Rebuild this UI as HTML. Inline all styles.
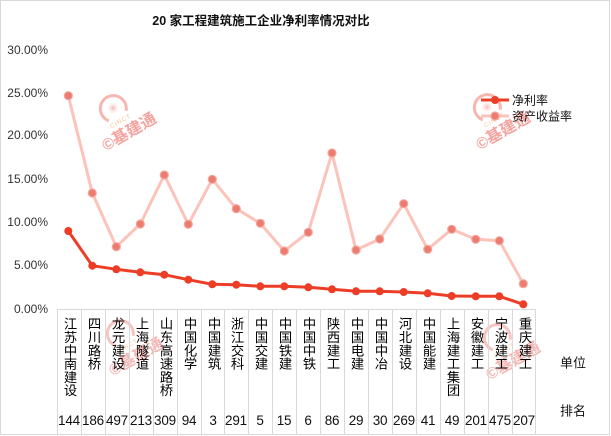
<!DOCTYPE html>
<html><head><meta charset="utf-8"><style>
html,body{margin:0;padding:0;background:#fff;}
#c{position:relative;width:611px;height:436px;overflow:hidden;font-family:"Liberation Sans","Noto Sans CJK SC",sans-serif;}
svg{position:absolute;left:0;top:0;}
.v{position:absolute;top:317px;width:24px;writing-mode:vertical-rl;text-orientation:upright;font-size:13.3px;line-height:24px;color:#000;font-family:"Liberation Sans","Noto Sans CJK SC",sans-serif;}
.n{position:absolute;top:411px;width:24px;text-align:center;font-size:13.5px;line-height:19px;color:#111;white-space:nowrap;letter-spacing:-0.2px;}
.y{position:absolute;left:0;width:48px;text-align:right;font-size:12px;line-height:14px;color:#333;}
</style></head><body><div id="c">
<svg width="611" height="436" viewBox="0 0 611 436" xmlns="http://www.w3.org/2000/svg">
<defs>
<radialGradient id="rg"><stop offset="0" stop-color="#f49a94" stop-opacity="0.9"/><stop offset="1" stop-color="#fff" stop-opacity="0"/></radialGradient>
</defs>
<rect x="0.5" y="0.5" width="609" height="434" fill="#fff" stroke="#d9d9d9"/>
<!-- watermarks -->
<g opacity="0.8" font-family="Liberation Sans,Noto Sans CJK SC,sans-serif">
<g transform="translate(113,108) rotate(-30)">
<path d="M -10 9 A 13 13 0 1 1 10 9" fill="none" stroke="#f6a49c" stroke-width="3"/>
<circle r="7" fill="url(#rg)"/>
<text x="0" y="17" font-size="6" fill="#f2b36d" text-anchor="middle" letter-spacing="1">CINCT</text>
<text x="2" y="34" font-size="16" font-weight="bold" fill="#f28c86" text-anchor="middle">©基建通</text>
</g>
<g transform="translate(487,107) rotate(-30)">
<path d="M -10 9 A 13 13 0 1 1 10 9" fill="none" stroke="#f6a49c" stroke-width="3"/>
<circle r="7" fill="url(#rg)"/>
<text x="0" y="17" font-size="6" fill="#f2b36d" text-anchor="middle" letter-spacing="1">CINCT</text>
<text x="2" y="34" font-size="16" font-weight="bold" fill="#f28c86" text-anchor="middle">©基建通</text>
</g>
<g transform="translate(120,333) rotate(-30)" opacity="0.8">
<path d="M -10 9 A 13 13 0 1 1 10 9" fill="none" stroke="#f6a49c" stroke-width="3"/>
<text x="0" y="17" font-size="6" fill="#f2b36d" text-anchor="middle" letter-spacing="1">CINCT</text>
<text x="2" y="34" font-size="16" font-weight="bold" fill="#f28c86" text-anchor="middle">©基建通</text>
</g>
<g transform="translate(497,337) rotate(-30)" opacity="0.8">
<path d="M -10 9 A 13 13 0 1 1 10 9" fill="none" stroke="#f6a49c" stroke-width="3"/>
<text x="0" y="17" font-size="6" fill="#f2b36d" text-anchor="middle" letter-spacing="1">CINCT</text>
<text x="2" y="34" font-size="16" font-weight="bold" fill="#f28c86" text-anchor="middle">©基建通</text>
</g>
</g>
<!-- axis & table lines -->
<g stroke="#d9d9d9" stroke-width="1" fill="none">
<line x1="57" y1="309.5" x2="536" y2="309.5"/>
<path d="M57.5 309V434 M81.5 309V434 M105.5 309V434 M129.5 309V434 M153.5 309V434 M177.5 309V434 M201.5 309V434 M224.5 309V434 M248.5 309V434 M272.5 309V434 M296.5 309V434 M320.5 309V434 M344.5 309V434 M368.5 309V434 M392.5 309V434 M416.5 309V434 M440.5 309V434 M464.5 309V434 M488.5 309V434 M512.5 309V434 M535.5 309V434"/>
</g>
<!-- pink series -->
<polyline fill="none" stroke="#fbc3ba" stroke-width="3" stroke-linejoin="round" points="68.3,95.7 92.3,193 116.3,246.7 140.3,224 164.3,175 188.3,224.3 212.3,179.3 236.3,208.7 260.3,223.3 284.3,251 308.3,232.3 332,153 356,250 379.7,239 403.7,203.7 427.7,249.3 451.7,229.3 475.7,239.3 499.3,240.7 523.3,283.7"/>
<g fill="#ec7b70" stroke="#f4a59c" stroke-width="1.2">
<circle cx="68.3" cy="95.7" r="4"/><circle cx="92.3" cy="193" r="4"/><circle cx="116.3" cy="246.7" r="4"/><circle cx="140.3" cy="224" r="4"/><circle cx="164.3" cy="175" r="4"/><circle cx="188.3" cy="224.3" r="4"/><circle cx="212.3" cy="179.3" r="4"/><circle cx="236.3" cy="208.7" r="4"/><circle cx="260.3" cy="223.3" r="4"/><circle cx="284.3" cy="251" r="4"/><circle cx="308.3" cy="232.3" r="4"/><circle cx="332" cy="153" r="4"/><circle cx="356" cy="250" r="4"/><circle cx="379.7" cy="239" r="4"/><circle cx="403.7" cy="203.7" r="4"/><circle cx="427.7" cy="249.3" r="4"/><circle cx="451.7" cy="229.3" r="4"/><circle cx="475.7" cy="239.3" r="4"/><circle cx="499.3" cy="240.7" r="4"/><circle cx="523.3" cy="283.7" r="4"/>
</g>
<!-- red series -->
<polyline fill="none" stroke="#ec3d27" stroke-width="3" stroke-linejoin="round" points="68.3,231 92.3,265.7 116.3,269.3 140.3,272.3 164.3,274.7 188.3,279.7 212.3,284.3 236.3,284.7 260.3,286.3 284.3,286.3 308.3,287.3 332,289.3 356,291.3 379.7,291.3 403.7,292 427.7,293.3 451.7,296 475.7,296.3 499.3,296.3 523.3,304.3"/>
<g fill="#ec3d27">
<circle cx="68.3" cy="231" r="4"/><circle cx="92.3" cy="265.7" r="4"/><circle cx="116.3" cy="269.3" r="4"/><circle cx="140.3" cy="272.3" r="4"/><circle cx="164.3" cy="274.7" r="4"/><circle cx="188.3" cy="279.7" r="4"/><circle cx="212.3" cy="284.3" r="4"/><circle cx="236.3" cy="284.7" r="4"/><circle cx="260.3" cy="286.3" r="4"/><circle cx="284.3" cy="286.3" r="4"/><circle cx="308.3" cy="287.3" r="4"/><circle cx="332" cy="289.3" r="4"/><circle cx="356" cy="291.3" r="4"/><circle cx="379.7" cy="291.3" r="4"/><circle cx="403.7" cy="292" r="4"/><circle cx="427.7" cy="293.3" r="4"/><circle cx="451.7" cy="296" r="4"/><circle cx="475.7" cy="296.3" r="4"/><circle cx="499.3" cy="296.3" r="4"/><circle cx="523.3" cy="304.3" r="4"/>
</g>
<!-- legend -->
<line x1="481" y1="100" x2="509" y2="100" stroke="#ec3d27" stroke-width="3"/>
<circle cx="495" cy="100" r="4" fill="#ec3d27"/>
<line x1="481" y1="116" x2="509" y2="116" stroke="#fbc3ba" stroke-width="3"/>
<circle cx="495" cy="116" r="4" fill="#ec7b70" stroke="#f4a59c" stroke-width="1.2"/>
<text x="512" y="104.5" font-size="12" fill="#111" font-family="Liberation Sans,Noto Sans CJK SC,sans-serif">净利率</text>
<text x="512" y="120.5" font-size="12" fill="#111" font-family="Liberation Sans,Noto Sans CJK SC,sans-serif">资产收益率</text>
<!-- title -->
<text x="261" y="25" font-size="12.5" font-weight="bold" fill="#111" text-anchor="middle" font-family="Liberation Sans,Noto Sans CJK SC,sans-serif">20 家工程建筑施工企业净利率情况对比</text>
<text x="573" y="367.5" font-size="13" fill="#111" text-anchor="middle" font-family="Liberation Sans,Noto Sans CJK SC,sans-serif">单位</text>
<text x="573" y="415.5" font-size="13" fill="#111" text-anchor="middle" font-family="Liberation Sans,Noto Sans CJK SC,sans-serif">排名</text>
</svg>

<div class="y" style="top:43px">30.00%</div>
<div class="y" style="top:86px">25.00%</div>
<div class="y" style="top:128px">20.00%</div>
<div class="y" style="top:172px">15.00%</div>
<div class="y" style="top:215px">10.00%</div>
<div class="y" style="top:258px">5.00%</div>
<div class="y" style="top:302px">0.00%</div>

<div class="v" style="left:57px">江苏中南建设</div>
<div class="v" style="left:81px">四川路桥</div>
<div class="v" style="left:105px">龙元建设</div>
<div class="v" style="left:129px">上海隧道</div>
<div class="v" style="left:153px">山东高速路桥</div>
<div class="v" style="left:177px">中国化学</div>
<div class="v" style="left:201px">中国建筑</div>
<div class="v" style="left:224px">浙江交科</div>
<div class="v" style="left:248px">中国交建</div>
<div class="v" style="left:272px">中国铁建</div>
<div class="v" style="left:296px">中国中铁</div>
<div class="v" style="left:320px">陕西建工</div>
<div class="v" style="left:344px">中国电建</div>
<div class="v" style="left:368px">中国中冶</div>
<div class="v" style="left:392px">河北建设</div>
<div class="v" style="left:416px">中国能建</div>
<div class="v" style="left:440px">上海建工集团</div>
<div class="v" style="left:464px">安徽建工</div>
<div class="v" style="left:488px">宁波建工</div>
<div class="v" style="left:512px">重庆建工</div>

<div class="n" style="left:57px">144</div>
<div class="n" style="left:81px">186</div>
<div class="n" style="left:105px">497</div>
<div class="n" style="left:129px">213</div>
<div class="n" style="left:153px">309</div>
<div class="n" style="left:177px">94</div>
<div class="n" style="left:201px">3</div>
<div class="n" style="left:224px">291</div>
<div class="n" style="left:248px">5</div>
<div class="n" style="left:272px">15</div>
<div class="n" style="left:296px">6</div>
<div class="n" style="left:320px">86</div>
<div class="n" style="left:344px">29</div>
<div class="n" style="left:368px">30</div>
<div class="n" style="left:392px">269</div>
<div class="n" style="left:416px">41</div>
<div class="n" style="left:440px">49</div>
<div class="n" style="left:464px">201</div>
<div class="n" style="left:488px">475</div>
<div class="n" style="left:512px">207</div>
</div></body></html>
